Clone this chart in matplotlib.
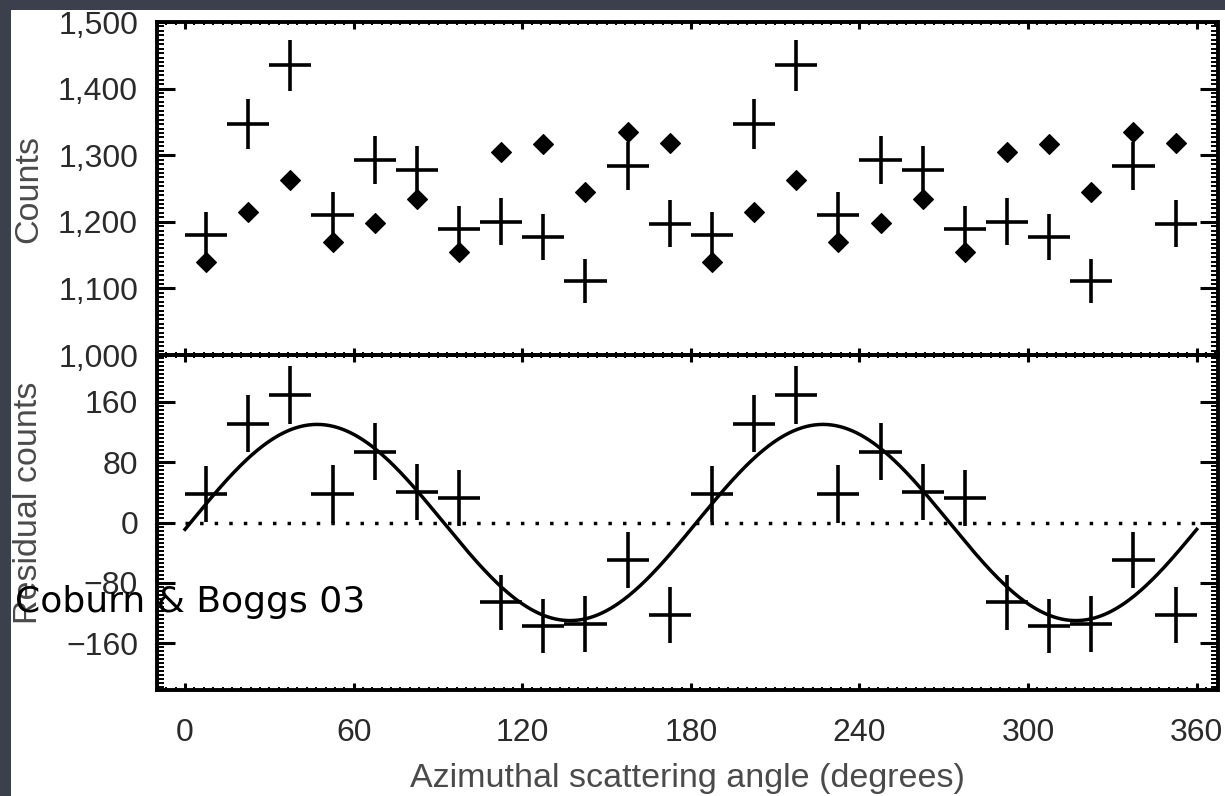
import numpy as np
import matplotlib
matplotlib.use("Agg")
import matplotlib.pyplot as plt
from matplotlib.patches import Rectangle
from matplotlib.ticker import FixedLocator, AutoMinorLocator, FuncFormatter

# ---------------- data ----------------
angles = [7.5, 22.5, 37.5, 52.5, 67.5, 82.5, 97.5, 112.5, 127.5, 142.5, 157.5, 172.5,
          187.5, 202.5, 217.5, 232.5, 247.5, 262.5, 277.5, 292.5, 307.5, 322.5, 337.5, 352.5]
bin_halfwidth = [7.5] * 24

counts_cross = [1180, 1347, 1435, 1210, 1293, 1278, 1189, 1200, 1177, 1111, 1284, 1197,
                1180, 1347, 1435, 1210, 1293, 1278, 1189, 1200, 1177, 1111, 1284, 1197]
counts_err = [34, 37, 38, 35, 36, 36, 34, 35, 34, 33, 36, 35,
              34, 37, 38, 35, 36, 36, 34, 35, 34, 33, 36, 35]
counts_diamond = [1140, 1215, 1263, 1170, 1198, 1234, 1155, 1305, 1317, 1245, 1335, 1318,
                  1140, 1215, 1263, 1170, 1198, 1234, 1155, 1305, 1317, 1245, 1335, 1318]

residuals = [38, 131, 169, 38, 94, 40, 33, -106, -137, -135, -50, -123,
             38, 131, 169, 38, 94, 40, 33, -106, -137, -135, -50, -123]
residual_err = [37, 38, 39, 38, 38, 37, 37, 37, 36, 37, 37, 37,
                37, 38, 39, 38, 38, 37, 37, 37, 36, 37, 37, 37]

# modulation fit parameters
fit_amplitude = 130.0
fit_phase_deg = 47.0

count_ticks = [1000, 1100, 1200, 1300, 1400, 1500]
residual_ticks = [-160, -80, 0, 80, 160]
angle_ticks = [0, 60, 120, 180, 240, 300, 360]

# ---------------- styling ----------------
W, H = 1225, 796
plt.rcParams['font.family'] = ['Liberation Sans', 'DejaVu Sans']
tick_color = '#2a2a2a'
label_color = '#4a4a4a'

fig = plt.figure(figsize=(W / 100, H / 100), dpi=100, facecolor='#3c404c')
fig.patches.append(Rectangle((11 / W, 0), 1 - 11 / W, (H - 10) / H,
                             transform=fig.transFigure, facecolor='white',
                             edgecolor='none', zorder=-10))

left = 157.5 / W
width = 1060 / W
ax1 = fig.add_axes([left, 1 - 355 / H, width, 333 / H])
ax2 = fig.add_axes([left, 1 - 690 / H, width, 335 / H])

xlim = (-9.8, 367.4)


def style_axes(ax):
    ax.set_facecolor('none')
    ax.set_zorder(1)
    for s in ax.spines.values():
        s.set_linewidth(2.8)
        s.set_color('black')
    ax.set_xlim(*xlim)
    ax.xaxis.set_major_locator(FixedLocator(angle_ticks))
    ax.xaxis.set_minor_locator(AutoMinorLocator(18))
    ax.yaxis.set_minor_locator(AutoMinorLocator(15))
    ax.tick_params(axis='x', which='major', direction='in', top=True, bottom=True,
                   length=5, width=2.2, color='black', labelsize=23, labelcolor=tick_color, pad=20)
    ax.tick_params(axis='x', which='minor', direction='in', top=True, bottom=True,
                   length=2.5, width=1.4, color='black')
    ax.tick_params(axis='y', which='major', direction='in', left=True, right=True,
                   length=13, width=2.2, color='black', labelsize=23, labelcolor=tick_color, pad=14)
    ax.tick_params(axis='y', which='minor', direction='in', left=True, right=True,
                   length=5, width=1.4, color='black')


style_axes(ax1)
style_axes(ax2)

# ---- top panel: counts ----
ax1.errorbar(angles, counts_cross, xerr=bin_halfwidth, yerr=counts_err, fmt='none',
             ecolor='black', elinewidth=2.6, capsize=0, zorder=3)
ax1.plot(angles, counts_diamond, linestyle='none', marker='D', markersize=10.5,
         color='black', markeredgewidth=0.8, zorder=4)
ax1.set_ylim(1000, 1500)
ax1.yaxis.set_major_locator(FixedLocator(count_ticks))
ax1.yaxis.set_major_formatter(FuncFormatter(lambda v, p: f"{int(v):,}"))
ax1.tick_params(axis='x', labelbottom=False)
ax1.set_ylabel('Counts', fontsize=24.5, color=label_color)
ax1.yaxis.set_label_coords((44 - 157.5) / 1060, (355 - 189) / 333)

# ---- bottom panel: residuals ----
ax2.set_ylim(-222, 222)
ax2.yaxis.set_major_locator(FixedLocator(residual_ticks))
ax2.yaxis.set_major_formatter(FuncFormatter(lambda v, p: f"{int(v)}".replace('-', '\u2212')))
ax2.hlines(0, 0, 360, colors='black', linewidth=2.5, linestyles=(0, (1, 3.2)), zorder=2)
ax2.errorbar(angles, residuals, xerr=bin_halfwidth, yerr=residual_err, fmt='none',
             ecolor='black', elinewidth=2.6, capsize=0, zorder=3)
phi = np.linspace(0, 360, 721)
model = fit_amplitude * np.cos(np.deg2rad(2 * (phi - fit_phase_deg)))
ax2.plot(phi, model, color='black', linewidth=2.5, zorder=4)
ax2.set_ylabel('Residual counts', fontsize=24.5, color=label_color)
ax2.yaxis.set_label_coords((44 - 157.5) / 1060, (690 - 503) / 335)
ax2.set_xlabel('Azimuthal scattering angle (degrees)', fontsize=24.5, color=label_color,
               labelpad=11)

# annotation
fig.text(15 / W, 1 - 612 / H, 'Coburn & Boggs 03', fontsize=26, color='black',
         family='DejaVu Sans', ha='left', va='baseline', zorder=10)

fig.savefig('out.png', dpi=100, facecolor=fig.get_facecolor())
